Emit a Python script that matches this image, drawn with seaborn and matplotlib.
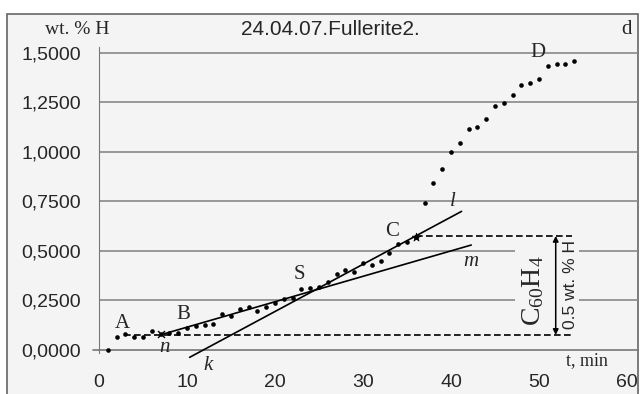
import numpy as np
import pandas as pd
import seaborn as sns
import matplotlib.pyplot as plt
import matplotlib.ticker as ticker
from matplotlib.patches import Rectangle

# time, min and wt.% H
t_min = list(range(1, 55))
wt_h = [0.000, 0.065, 0.079, 0.068, 0.068, 0.098, 0.080, 0.084, 0.084, 0.112,
        0.120, 0.126, 0.133, 0.180, 0.170, 0.207, 0.215, 0.195, 0.215, 0.235,
        0.260, 0.263, 0.310, 0.313, 0.320, 0.345, 0.384, 0.404, 0.393, 0.440,
        0.427, 0.448, 0.488, 0.534, 0.547, 0.570, 0.740, 0.845, 0.912, 0.998,
        1.043, 1.114, 1.124, 1.167, 1.232, 1.246, 1.290, 1.338, 1.347, 1.370,
        1.434, 1.443, 1.443, 1.458]

# tangent lines (endpoints)
line_nm_x = [7.1, 42.3]
line_nm_y = [0.078, 0.530]
line_kl_x = [10.3, 41.2]
line_kl_y = [-0.037, 0.700]
# dashed levels
level_low = 0.076
level_high = 0.576
dash_low_x = [2.8, 53.7]
dash_high_x = [36.0, 53.7]

xticks = [0, 10, 20, 30, 40, 50, 60]
yticks = [0.25, 0.5, 0.75, 1.0, 1.25, 1.5]

df = pd.DataFrame({'t': t_min, 'h': wt_h})

sns.set_style('white')
plt.rcParams['font.family'] = ['Liberation Sans', 'DejaVu Sans']
serif = ['Liberation Serif', 'DejaVu Serif']
bg = '#f4f4f4'

fig = plt.figure(figsize=(6.4, 3.94), dpi=100, facecolor='white')
fig.patches.append(Rectangle((7 / 640, -0.05), 631 / 640, 1.05 - 14 / 394,
                             transform=fig.transFigure, facecolor=bg,
                             edgecolor='#666666', linewidth=1.2, zorder=-10))
ax = fig.add_axes([99 / 640, 24.2 / 394, 539 / 640, 322.8 / 394])
ax.set_facecolor('none')
ax.set_xlim(0, 61.25)
ax.set_ylim(-0.1, 1.53)

for s in ['top', 'right']:
    ax.spines[s].set_visible(False)
ax.spines['left'].set_bounds(-0.015, 1.53)
ax.spines['left'].set_color('#777777')
ax.spines['bottom'].set_position(('data', 0))
ax.spines['bottom'].set_color('#777777')
ax.spines['bottom'].set_linewidth(1.2)
ax.plot([-0.7, 0], [0, 0], color='#777777', lw=1.2, clip_on=False)

for yv in yticks:
    ax.axhline(yv, color='#888888', lw=1.2, zorder=0)
# blank strip behind the annotation
ax.fill_between([47.3, 54.5], 0.1, 0.55, color=bg, zorder=1, lw=0)

ax.set_xticks(xticks)
ax.set_yticks([0] + yticks)
ax.yaxis.set_major_formatter(ticker.FuncFormatter(lambda v, p: f'{v:.4f}'.replace('.', ',')))
ax.tick_params(axis='y', length=0, pad=13, labelsize=14)
ax.tick_params(axis='x', direction='in', length=3, color='#777777', pad=17, labelsize=14)

sns.scatterplot(data=df, x='t', y='h', color='black', s=11, linewidth=0, ax=ax, zorder=4)
ax.scatter([t_min[6]], [wt_h[6]], marker='x', color='black', s=25, lw=1, zorder=5)
ax.scatter([t_min[35]], [wt_h[35]], marker='*', color='black', s=40, lw=0.5, zorder=5)
ax.set_xlabel('')
ax.set_ylabel('')

ax.plot(line_nm_x, line_nm_y, color='black', lw=1.2, zorder=3)
ax.plot(line_kl_x, line_kl_y, color='black', lw=1.2, zorder=3, clip_on=False)
ax.plot(dash_low_x, [level_low] * 2, color='black', lw=1.2, ls=(0, (4, 2)), zorder=3)
ax.plot(dash_high_x, [level_high] * 2, color='black', lw=1.2, ls=(0, (4, 2)), zorder=3)
ax.annotate('', xy=(51.9, level_high), xytext=(51.9, level_low),
            arrowprops=dict(arrowstyle='<|-|>', color='black', lw=1.1,
                            mutation_scale=8, shrinkA=0, shrinkB=0), zorder=3)

ax.text(49.3, 0.30, r'$\mathregular{C_{60}H_4}$', rotation=90, fontsize=20,
        family=serif, ha='center', va='center', zorder=4)
ax.text(53.6, 0.33, '0.5 wt. % H', rotation=90, fontsize=12.5,
        ha='center', va='center', zorder=4)

pts = [('A', 2.7, 0.136), ('B', 9.6, 0.18), ('S', 22.8, 0.38),
       ('C', 33.3, 0.60), ('D', 49.9, 1.50)]
for lab, x, y in pts:
    ax.text(x, y, lab, fontsize=15, family=serif, ha='center', va='center')
for lab, x, y in [('n', 7.5, 0.015), ('k', 12.4, -0.076), ('m', 42.3, 0.446), ('l', 40.2, 0.75)]:
    ax.text(x, y, lab, fontsize=15, family=serif, style='italic',
            ha='center', va='center', clip_on=False)

ax.text(26.25, 1.616, '24.04.07.Fullerite2.', fontsize=15, ha='center', va='center', clip_on=False)
ax.text(60, 1.616, 'd', fontsize=15, family=serif, ha='center', va='center', clip_on=False)
ax.text(-2.5, 1.616, 'wt. % H', fontsize=14, family=serif, ha='center', va='center', clip_on=False)
ax.text(55.4, -0.054, 't, min', fontsize=13, family=serif, ha='center', va='center', clip_on=False)

fig.savefig('out.png', dpi=100, facecolor=fig.get_facecolor())
